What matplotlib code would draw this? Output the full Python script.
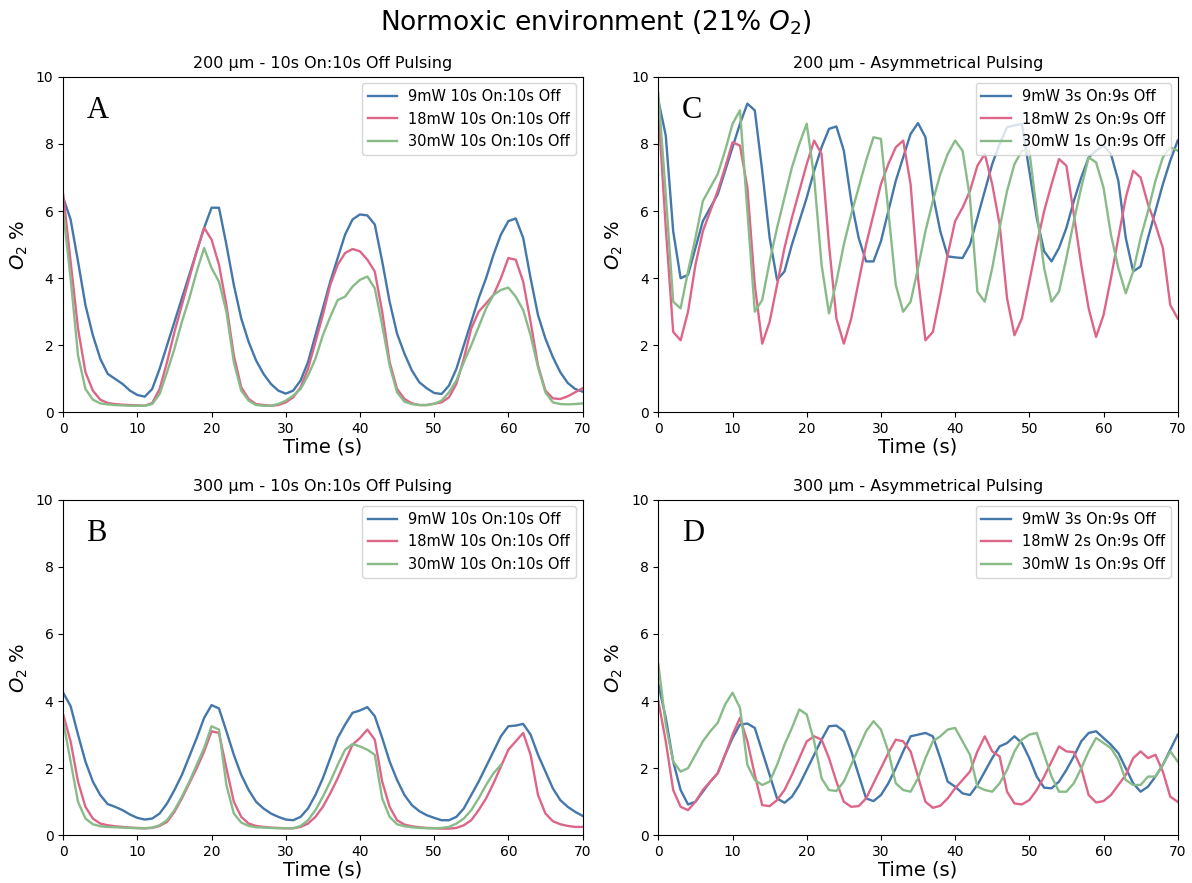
import matplotlib
matplotlib.use("Agg")
import matplotlib.pyplot as plt
import numpy as np

# time axis (s), one sample per second
time_s = np.arange(71)

# Panel A: 200 um, 10s On:10s Off
a_9mw = [6.4, 5.75, 4.5, 3.2, 2.3, 1.6, 1.15, 1.0, 0.85, 0.65,
         0.52, 0.47, 0.7, 1.3, 2.0, 2.7, 3.4, 4.1, 4.8, 5.5,
         6.1, 6.1, 5.0, 3.8, 2.8, 2.1, 1.55, 1.15, 0.85, 0.65,
         0.56, 0.65, 0.95, 1.5, 2.3, 3.1, 3.9, 4.6, 5.3, 5.75,
         5.9, 5.87, 5.6, 4.5, 3.3, 2.35, 1.75, 1.25, 0.9, 0.72,
         0.58, 0.55, 0.8, 1.3, 2.0, 2.7, 3.4, 4.0, 4.7, 5.3,
         5.7, 5.78, 5.2, 4.0, 2.9, 2.2, 1.65, 1.2, 0.88, 0.7, 0.62]
a_18mw = [6.5, 4.5, 2.5, 1.2, 0.65, 0.38, 0.28, 0.25, 0.23, 0.22,
          0.21, 0.2, 0.28, 0.7, 1.5, 2.4, 3.2, 4.0, 4.8, 5.5,
          5.15, 4.4, 3.2, 1.7, 0.75, 0.4, 0.25, 0.22, 0.2, 0.22,
          0.3, 0.45, 0.75, 1.3, 2.1, 2.9, 3.8, 4.4, 4.75, 4.87,
          4.8, 4.55, 4.2, 3.0, 1.5, 0.7, 0.4, 0.27, 0.22, 0.22,
          0.26, 0.3, 0.45, 0.85, 1.6, 2.5, 3.0, 3.25, 3.5, 4.0,
          4.6, 4.55, 3.9, 2.7, 1.4, 0.65, 0.42, 0.4, 0.48, 0.6, 0.72]
a_30mw = [6.0, 4.0, 1.7, 0.7, 0.38, 0.27, 0.24, 0.22, 0.21, 0.2,
          0.2, 0.2, 0.25, 0.55, 1.2, 1.9, 2.7, 3.4, 4.2, 4.9,
          4.3, 3.9, 3.0, 1.5, 0.65, 0.35, 0.22, 0.2, 0.2, 0.25,
          0.35, 0.5, 0.7, 1.1, 1.6, 2.3, 2.85, 3.35, 3.45, 3.75,
          3.95, 4.05, 3.7, 2.6, 1.4, 0.6, 0.32, 0.25, 0.22, 0.22,
          0.26, 0.35, 0.6, 0.95, 1.5, 2.0, 2.55, 3.1, 3.5, 3.65,
          3.72, 3.45, 3.05, 2.3, 1.35, 0.6, 0.3, 0.25, 0.24, 0.25, 0.27]

# Panel B: 300 um, 10s On:10s Off
b_9mw = [4.25, 3.85, 3.0, 2.2, 1.6, 1.2, 0.93, 0.85, 0.75, 0.62,
         0.52, 0.47, 0.5, 0.65, 0.95, 1.35, 1.8, 2.35, 2.9, 3.5,
         3.88, 3.78, 3.1, 2.4, 1.8, 1.35, 1.0, 0.8, 0.65, 0.55,
         0.47, 0.45, 0.55, 0.8, 1.2, 1.7, 2.3, 2.9, 3.3, 3.65,
         3.72, 3.82, 3.55, 2.9, 2.2, 1.65, 1.2, 0.9, 0.72, 0.6,
         0.52, 0.45, 0.45, 0.55, 0.8, 1.2, 1.6, 2.05, 2.5, 2.95,
         3.25, 3.27, 3.32, 3.0, 2.4, 1.9, 1.4, 1.05, 0.85, 0.7, 0.58]
b_18mw = [3.6, 2.8, 1.6, 0.85, 0.5, 0.35, 0.3, 0.27, 0.25, 0.23,
          0.22, 0.21, 0.22, 0.28, 0.4, 0.7, 1.1, 1.55, 2.0, 2.5,
          3.1, 3.05, 2.0, 1.0, 0.55, 0.35, 0.28, 0.25, 0.23, 0.22,
          0.21, 0.21, 0.25, 0.35, 0.55, 0.85, 1.25, 1.7, 2.2, 2.7,
          2.9, 3.15, 2.85, 1.6, 0.85, 0.45, 0.32, 0.27, 0.24, 0.22,
          0.21, 0.2, 0.2, 0.22, 0.3, 0.45, 0.75, 1.1, 1.55, 2.05,
          2.55, 2.8, 3.05, 2.4, 1.2, 0.65, 0.42, 0.33, 0.28, 0.25, 0.25]
# the 30mW trace stops at 59 s
b_30mw = [3.4, 2.2, 1.0, 0.5, 0.33, 0.27, 0.25, 0.24, 0.23, 0.22,
          0.21, 0.21, 0.23, 0.3, 0.45, 0.75, 1.15, 1.6, 2.1, 2.6,
          3.25, 3.15, 1.5, 0.65, 0.38, 0.28, 0.24, 0.23, 0.22, 0.21,
          0.21, 0.21, 0.28, 0.45, 0.75, 1.15, 1.6, 2.1, 2.55, 2.72,
          2.65, 2.55, 2.4, 1.1, 0.55, 0.33, 0.27, 0.24, 0.22, 0.21,
          0.21, 0.22, 0.25, 0.35, 0.5, 0.75, 1.1, 1.5, 1.85, 2.1]

# Panel C: 200 um, asymmetrical pulsing
c_9mw = [9.3, 8.25, 5.4, 4.0, 4.1, 4.9, 5.7, 6.1, 6.5, 7.2,
         7.9, 8.6, 9.2, 9.0, 7.2, 5.2, 3.95, 4.2, 5.0, 5.7,
         6.4, 7.2, 7.9, 8.45, 8.52, 7.8, 6.3, 5.2, 4.5, 4.5,
         5.1, 6.0, 6.9, 7.6, 8.3, 8.62, 8.2, 6.5, 5.4, 4.65,
         4.62, 4.6, 5.0, 5.8, 6.6, 7.4, 8.0, 8.5, 8.55, 8.6,
         7.2, 5.8, 4.8, 4.5, 4.9, 5.5, 6.3, 7.0, 7.6, 7.8,
         7.95, 7.7, 6.9, 5.2, 4.2, 4.35, 5.2, 6.0, 6.8, 7.5, 8.1]
c_18mw = [9.0, 5.5, 2.4, 2.15, 3.0, 4.4, 5.4, 6.0, 6.6, 7.3,
          8.05, 7.95, 6.7, 3.8, 2.05, 2.7, 3.8, 4.9, 5.8, 6.6,
          7.4, 8.1, 7.7, 5.0, 2.8, 2.05, 2.8, 3.9, 5.0, 5.9,
          6.8, 7.4, 7.9, 8.1, 6.8, 4.0, 2.15, 2.4, 3.5, 4.7,
          5.7, 6.1, 6.6, 7.35, 7.7, 6.8, 5.6, 3.4, 2.3, 2.8,
          3.9, 5.0, 6.0, 6.8, 7.55, 7.35, 5.9, 4.4, 3.1, 2.25,
          2.9, 4.0, 5.2, 6.4, 7.2, 7.0, 6.2, 5.6, 4.9, 3.2, 2.8]
c_30mw = [9.5, 6.5, 3.3, 3.1, 4.2, 5.2, 6.3, 6.7, 7.1, 7.8,
          8.6, 9.0, 6.0, 3.0, 3.35, 4.5, 5.5, 6.4, 7.3, 8.0,
          8.6, 7.0, 4.4, 2.95, 3.9, 5.0, 5.9, 6.7, 7.5, 8.2,
          8.15, 6.0, 3.8, 3.0, 3.3, 4.3, 5.4, 6.3, 7.1, 7.7,
          8.1, 7.8, 6.4, 3.6, 3.3, 4.3, 5.5, 6.6, 7.4, 7.8,
          7.8, 6.0, 4.3, 3.3, 3.6, 4.6, 5.7, 6.7, 7.6, 7.45,
          6.7, 5.3, 4.3, 3.55, 4.2, 5.2, 6.0, 6.9, 7.6, 7.9, 7.8]

# Panel D: 300 um, asymmetrical pulsing
d_9mw = [4.5, 3.5, 2.2, 1.35, 0.92, 1.0, 1.3, 1.6, 1.85, 2.4,
         2.9, 3.3, 3.33, 3.2, 2.5, 1.8, 1.1, 0.97, 1.15, 1.5,
         1.95, 2.4, 2.85, 3.25, 3.27, 3.1, 2.5, 1.8, 1.1, 1.02,
         1.2, 1.55, 2.0, 2.5, 2.95, 3.0, 3.05, 2.95, 2.3, 1.6,
         1.45, 1.25, 1.2, 1.5, 1.9, 2.3, 2.65, 2.75, 2.95, 2.75,
         2.3, 1.75, 1.42, 1.4, 1.6, 1.95, 2.35, 2.8, 3.05, 3.1,
         2.9, 2.7, 2.45, 2.0, 1.55, 1.3, 1.45, 1.75, 2.1, 2.55, 3.0]
d_18mw = [4.0, 2.8, 1.35, 0.85, 0.75, 1.0, 1.35, 1.6, 1.85, 2.4,
          3.0, 3.5, 2.8, 1.8, 0.9, 0.87, 1.05, 1.35, 1.8, 2.3,
          2.8, 2.95, 2.85, 2.3, 1.6, 1.0, 0.85, 0.87, 1.1, 1.55,
          2.0, 2.45, 2.85, 2.8, 2.5, 1.75, 1.0, 0.82, 0.88, 1.1,
          1.4, 1.65, 1.9, 2.5, 2.95, 2.5, 2.35, 1.3, 0.95, 0.92,
          1.05, 1.35, 1.75, 2.2, 2.65, 2.5, 2.48, 2.0, 1.2, 0.98,
          1.02, 1.2, 1.5, 1.8, 2.3, 2.5, 2.3, 2.4, 1.9, 1.15, 1.0]
d_30mw = [5.1, 3.3, 2.2, 1.9, 2.0, 2.4, 2.8, 3.1, 3.35, 3.9,
          4.25, 3.8, 2.1, 1.65, 1.5, 1.6, 2.1, 2.7, 3.2, 3.75,
          3.6, 2.8, 1.7, 1.35, 1.32, 1.6, 2.1, 2.6, 3.1, 3.4,
          3.15, 2.5, 1.55, 1.35, 1.3, 1.7, 2.3, 2.8, 2.95, 3.15,
          3.2, 2.8, 2.4, 1.45, 1.35, 1.3, 1.55, 1.95, 2.5, 2.85,
          3.0, 3.05, 2.4, 1.75, 1.3, 1.3, 1.55, 2.0, 2.5, 2.9,
          2.75, 2.6, 2.25, 1.65, 1.5, 1.5, 1.75, 1.75, 2.1, 2.5, 2.2]

sym_labels = ["9mW 10s On:10s Off", "18mW 10s On:10s Off", "30mW 10s On:10s Off"]
asym_labels = ["9mW 3s On:9s Off", "18mW 2s On:9s Off", "30mW 1s On:9s Off"]
colors = ["#4477aa", "#dd6688", "#88bb88"]


def draw_panel(ax, series, labels, title, letter):
    for values, label, color in zip(series, labels, colors):
        ax.plot(time_s[:len(values)], values, color=color, lw=1.7, label=label)
    ax.set_xlim(0, 70)
    ax.set_ylim(0, 10)
    ax.set_title(title, fontsize=11.5)
    ax.set_xlabel("Time (s)", fontsize=14, labelpad=1)
    ax.set_ylabel("$O_2$ %", fontsize=14)
    ax.legend(loc="upper right", fontsize=10.5, borderaxespad=0.45)
    ax.text(0.045, 0.9, letter, transform=ax.transAxes, fontsize=22,
            family="Liberation Serif", va="center")


fig, axes = plt.subplots(2, 2, figsize=(11.92, 8.83), dpi=100)
fig.subplots_adjust(left=0.053, right=0.988, top=0.913, bottom=0.054,
                    hspace=0.26, wspace=0.146)

draw_panel(axes[0, 0], [a_9mw, a_18mw, a_30mw], sym_labels,
           "200 µm - 10s On:10s Off Pulsing", "A")
draw_panel(axes[1, 0], [b_9mw, b_18mw, b_30mw], sym_labels,
           "300 µm - 10s On:10s Off Pulsing", "B")
draw_panel(axes[0, 1], [c_9mw, c_18mw, c_30mw], asym_labels,
           "200 µm - Asymmetrical Pulsing", "C")
draw_panel(axes[1, 1], [d_9mw, d_18mw, d_30mw], asym_labels,
           "300 µm - Asymmetrical Pulsing", "D")

fig.suptitle("Normoxic environment (21% $O_2$)", fontsize=19, y=0.99)

fig.savefig("out.png", dpi=100)
